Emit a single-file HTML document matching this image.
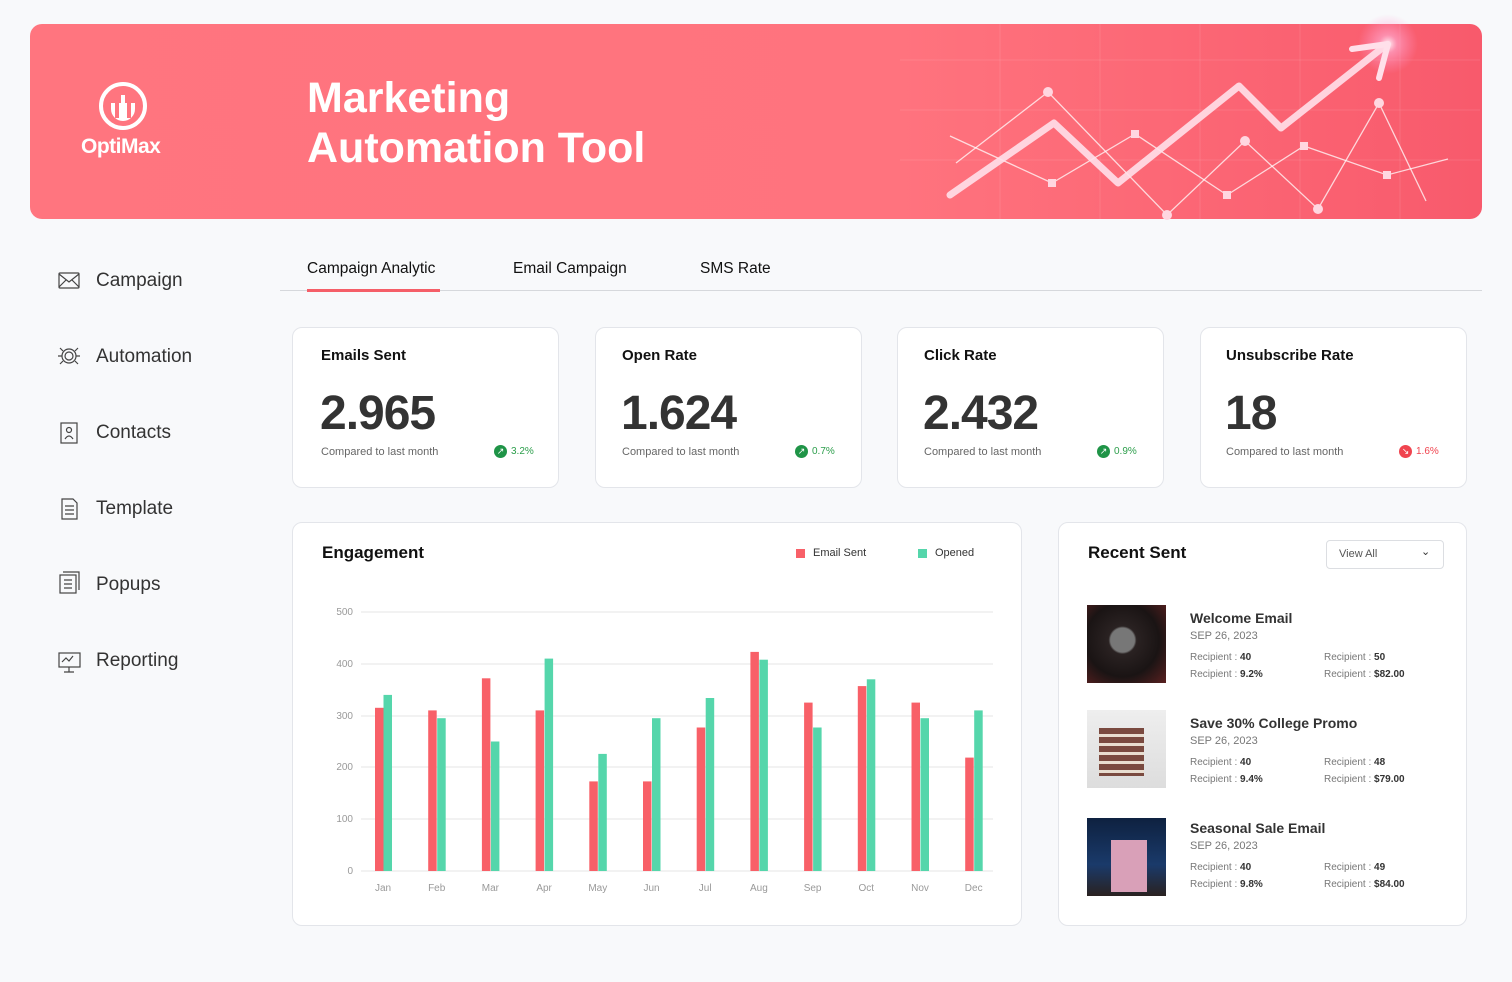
<!DOCTYPE html>
<html><head><meta charset="utf-8"><style>
*{margin:0;padding:0;box-sizing:border-box}
body{width:1512px;height:982px;background:#f8f9fb;font-family:"Liberation Sans",sans-serif;position:relative;overflow:hidden;color:#222}
.a{position:absolute;white-space:nowrap}
.banner{left:30px;top:24px;width:1452px;height:195px;border-radius:12px;background:linear-gradient(90deg,#ff757f 0%,#ff737e 60%,#f85a6c 100%);overflow:hidden}
.nav{font-size:19px;color:#333}
.card{background:#fff;border:1px solid #e3e5ea;border-radius:10px}
.kt{font-size:15px;font-weight:bold;color:#111}
.kv{font-size:48px;font-weight:bold;color:#333;letter-spacing:-1px}
.kc{font-size:11px;color:#666}
.kp{font-size:10px}
.dot{display:inline-block;width:13px;height:13px;border-radius:50%;color:#fff;font-size:9px;text-align:center;line-height:13px;vertical-align:middle;margin-right:4px}
.rt{font-size:14px;font-weight:bold;color:#333}
.rd{font-size:11px;color:#777}
.rr{font-size:10px;color:#777}
.rr b{color:#333}
.tab{font-size:15.5px;color:#111}
</style></head><body>
<div class="a banner"></div>
<svg class="a" style="left:0;top:0" width="1512" height="982">
<defs><radialGradient id="g"><stop offset="0" stop-color="#fff" stop-opacity=".95"/><stop offset=".3" stop-color="#ffb0d8" stop-opacity=".6"/><stop offset="1" stop-color="#ff9ad0" stop-opacity="0"/></radialGradient></defs>
<g stroke="#fff" stroke-opacity=".1" stroke-width="1">
<line x1="900" y1="60" x2="1480" y2="60"/><line x1="900" y1="110" x2="1480" y2="110"/><line x1="900" y1="160" x2="1480" y2="160"/>
<line x1="1000" y1="24" x2="1000" y2="219"/><line x1="1100" y1="24" x2="1100" y2="219"/><line x1="1200" y1="24" x2="1200" y2="219"/><line x1="1300" y1="24" x2="1300" y2="219"/><line x1="1400" y1="24" x2="1400" y2="219"/></g>
<circle cx="1388" cy="44" r="30" fill="url(#g)"/>
<polyline points="956,163 1048,92 1167,215 1245,141 1318,209 1379,103 1426,201" fill="none" stroke="#fff" stroke-opacity=".75" stroke-width="1.3"/>
<polyline points="950,136 1052,183 1135,134 1227,195 1304,146 1387,175 1448,159" fill="none" stroke="#fff" stroke-opacity=".75" stroke-width="1.3"/>
<g fill="#ffd6e0"><circle cx="1048" cy="92" r="5"/><circle cx="1167" cy="215" r="5"/><circle cx="1245" cy="141" r="5"/><circle cx="1318" cy="209" r="5"/><circle cx="1379" cy="103" r="5"/>
<rect x="1048" y="179" width="8" height="8"/><rect x="1131" y="130" width="8" height="8"/><rect x="1223" y="191" width="8" height="8"/><rect x="1300" y="142" width="8" height="8"/><rect x="1383" y="171" width="8" height="8"/></g>
<polyline points="950,195 1054,123 1118,183 1239,86 1281,128 1386,45" fill="none" stroke="#ffe0ea" stroke-opacity=".9" stroke-width="7" stroke-linecap="round" stroke-linejoin="round"/>
<polyline points="1352,49 1388,44 1379,78" fill="none" stroke="#ffe0ea" stroke-width="6" stroke-linecap="round" stroke-linejoin="round"/>
<circle cx="123" cy="106" r="22" fill="none" stroke="#fff" stroke-width="4"/>
<path d="M111 103 v6 a12 12 0 0 0 24 0 v-6" fill="#fff"/>
<rect x="115" y="100" width="4" height="18" fill="#ff757f"/><rect x="121" y="95" width="4" height="25" fill="#fff"/><rect x="127" y="100" width="4" height="18" fill="#ff757f"/>
</svg>
<div class="a" style="left:81px;top:135px;font-size:21px;font-weight:bold;color:#fff;letter-spacing:-0.5px">OptiMax</div>
<div class="a" style="left:307px;top:73px;font-size:43px;line-height:50px;font-weight:bold;color:#fff">Marketing<br>Automation Tool</div>

<div class="a nav" style="left:96px;top:270px">Campaign</div>
<div class="a nav" style="left:96px;top:346px">Automation</div>
<div class="a nav" style="left:96px;top:422px">Contacts</div>
<div class="a nav" style="left:96px;top:498px">Template</div>
<div class="a nav" style="left:96px;top:574px">Popups</div>
<div class="a nav" style="left:96px;top:650px">Reporting</div>
<svg class="a" style="left:56px;top:268px" width="30" height="410" fill="none" stroke="#444" stroke-width="1.2">
<rect x="3" y="5" width="20" height="15" rx="1"/><path d="M3 6 L13 14 L23 6 M3 19 L10 12 M23 19 L16 12"/>
<circle cx="13" cy="88" r="7"/><circle cx="13" cy="88" r="4"/><path d="M4 80 l3 3 M22 80 l-3 3 M4 96 l3-3 M22 96 l-3-3 M2 88 h4 M20 88 h4"/>
<rect x="5" y="155" width="16" height="20"/><circle cx="13" cy="162" r="2.5"/><path d="M9 171 q4-6 8 0"/>
<path d="M6 231 h11 l4 4 v16 h-15z M9 238 h9 M9 242 h9 M9 246 h9"/>
<rect x="4" y="307" width="16" height="18"/><path d="M7 304 h16 v18 M8 312 h8 M8 316 h8 M8 320 h8"/>
<rect x="3" y="385" width="21" height="14"/><path d="M13 399 v5 M8 404 h10 M6 394 l4-4 3 3 4-5"/>
</svg>

<div class="a tab" style="left:307px;top:260px">Campaign Analytic</div>
<div class="a tab" style="left:513px;top:260px">Email Campaign</div>
<div class="a tab" style="left:700px;top:260px">SMS Rate</div>
<div class="a" style="left:280px;top:290px;width:1202px;height:1px;background:#d6d8dc"></div>
<div class="a" style="left:307px;top:289px;width:133px;height:3px;background:#f55e68"></div>

<div class="a card" style="left:292px;top:327px;width:267px;height:161px"></div>
<div class="a card" style="left:595px;top:327px;width:267px;height:161px"></div>
<div class="a card" style="left:897px;top:327px;width:267px;height:161px"></div>
<div class="a card" style="left:1200px;top:327px;width:267px;height:161px"></div>
<div class="a kt" style="left:321px;top:347px">Emails Sent</div>
<div class="a kt" style="left:622px;top:347px">Open Rate</div>
<div class="a kt" style="left:924px;top:347px">Click Rate</div>
<div class="a kt" style="left:1226px;top:347px">Unsubscribe Rate</div>
<div class="a kv" style="left:320px;top:386px">2.965</div>
<div class="a kv" style="left:621px;top:386px">1.624</div>
<div class="a kv" style="left:923px;top:386px">2.432</div>
<div class="a kv" style="left:1225px;top:386px">18</div>
<div class="a kc" style="left:321px;top:446px">Compared to last month</div>
<div class="a kc" style="left:622px;top:446px">Compared to last month</div>
<div class="a kc" style="left:924px;top:446px">Compared to last month</div>
<div class="a kc" style="left:1226px;top:446px">Compared to last month</div>
<div class="a kp" style="left:494px;top:445px;color:#2c9e4b"><span class="dot" style="background:#1f9447">↗</span>3.2%</div>
<div class="a kp" style="left:795px;top:445px;color:#2c9e4b"><span class="dot" style="background:#1f9447">↗</span>0.7%</div>
<div class="a kp" style="left:1097px;top:445px;color:#2c9e4b"><span class="dot" style="background:#1f9447">↗</span>0.9%</div>
<div class="a kp" style="left:1399px;top:445px;color:#f0444f"><span class="dot" style="background:#f0444f">↘</span>1.6%</div>

<div class="a card" style="left:292px;top:522px;width:730px;height:404px"></div>
<div class="a" style="left:322px;top:543px;font-size:17px;font-weight:bold;color:#111">Engagement</div>
<div class="a" style="left:796px;top:549px;width:9px;height:9px;background:#f86068"></div>
<div class="a" style="left:813px;top:547px;font-size:11px;color:#333">Email Sent</div>
<div class="a" style="left:918px;top:549px;width:9px;height:9px;background:#55d6ab"></div>
<div class="a" style="left:935px;top:547px;font-size:11px;color:#333">Opened</div>
<svg class="a" style="left:0;top:0" width="1512" height="982" font-family="Liberation Sans, sans-serif" font-size="10" fill="#999">
<g stroke="#e6e6e6"><line x1="361" y1="612" x2="993" y2="612"/><line x1="361" y1="664" x2="993" y2="664"/><line x1="361" y1="716" x2="993" y2="716"/><line x1="361" y1="767" x2="993" y2="767"/><line x1="361" y1="819" x2="993" y2="819"/><line x1="361" y1="871" x2="993" y2="871"/></g>
<g text-anchor="end"><text x="353" y="615">500</text><text x="353" y="667">400</text><text x="353" y="719">300</text><text x="353" y="770">200</text><text x="353" y="822">100</text><text x="353" y="874">0</text></g>
<g text-anchor="middle"><text x="383" y="891">Jan</text><text x="436.7" y="891">Feb</text><text x="490.4" y="891">Mar</text><text x="544.1" y="891">Apr</text><text x="597.8" y="891">May</text><text x="651.5" y="891">Jun</text><text x="705.2" y="891">Jul</text><text x="758.9" y="891">Aug</text><text x="812.6" y="891">Sep</text><text x="866.3" y="891">Oct</text><text x="920" y="891">Nov</text><text x="973.7" y="891">Dec</text></g>
<g fill="#f86068">
<rect x="375" y="707.8" width="8.5" height="163.2"/><rect x="428.2" y="710.4" width="8.5" height="160.6"/><rect x="481.9" y="678.3" width="8.5" height="192.7"/><rect x="535.6" y="710.4" width="8.5" height="160.6"/><rect x="589.3" y="781.4" width="8.5" height="89.6"/><rect x="643" y="781.4" width="8.5" height="89.6"/><rect x="696.7" y="727.5" width="8.5" height="143.5"/><rect x="750.4" y="651.9" width="8.5" height="219.1"/><rect x="804.1" y="702.6" width="8.5" height="168.4"/><rect x="857.8" y="686.1" width="8.5" height="184.9"/><rect x="911.5" y="702.6" width="8.5" height="168.4"/><rect x="965.2" y="757.6" width="8.5" height="113.4"/></g>
<g fill="#55d6ab">
<rect x="383.5" y="694.9" width="8.5" height="176.1"/><rect x="437.2" y="718.2" width="8.5" height="152.8"/><rect x="490.9" y="741.5" width="8.5" height="129.5"/><rect x="544.6" y="658.6" width="8.5" height="212.4"/><rect x="598.3" y="753.9" width="8.5" height="117.1"/><rect x="652" y="718.2" width="8.5" height="152.8"/><rect x="705.7" y="698" width="8.5" height="173"/><rect x="759.4" y="659.7" width="8.5" height="211.3"/><rect x="813.1" y="727.5" width="8.5" height="143.5"/><rect x="866.8" y="679.3" width="8.5" height="191.7"/><rect x="920.5" y="718.2" width="8.5" height="152.8"/><rect x="974.2" y="710.4" width="8.5" height="160.6"/></g>
</svg>

<div class="a card" style="left:1058px;top:522px;width:409px;height:404px"></div>
<div class="a" style="left:1088px;top:543px;font-size:17px;font-weight:bold;color:#111">Recent Sent</div>
<div class="a" style="left:1326px;top:540px;width:118px;height:29px;border:1px solid #dcdee2;border-radius:4px;background:#fff"></div>
<div class="a" style="left:1339px;top:548px;font-size:11px;color:#555">View All</div>
<div class="a" style="left:1421px;top:545px;font-size:11px;color:#333">⌄</div>
<div class="a" style="left:1087px;top:605px;width:79px;height:78px;background:radial-gradient(circle at 45% 45%,#777 0 12px,#2a2222 14px,#1a1414 60%,#5a2020 100%)"></div>
<div class="a" style="left:1087px;top:710px;width:79px;height:78px;background:linear-gradient(#eee,#ddd);"><div style="position:absolute;left:12px;top:18px;width:45px;height:48px;background:repeating-linear-gradient(#7a4a40 0 6px,#e8ddd0 6px 9px)"></div></div>
<div class="a" style="left:1087px;top:818px;width:79px;height:78px;background:linear-gradient(#0e2140,#1a3a6a 60%,#2a2220)"><div style="position:absolute;left:24px;top:22px;width:36px;height:52px;background:#d9a0b8"></div></div>
<div class="a rt" style="left:1190px;top:610px">Welcome Email</div>
<div class="a rd" style="left:1190px;top:630px">SEP 26, 2023</div>
<div class="a rr" style="left:1190px;top:652px">Recipient : <b>40</b></div>
<div class="a rr" style="left:1190px;top:669px">Recipient : <b>9.2%</b></div>
<div class="a rr" style="left:1324px;top:652px">Recipient : <b>50</b></div>
<div class="a rr" style="left:1324px;top:669px">Recipient : <b>$82.00</b></div>
<div class="a rt" style="left:1190px;top:715px">Save 30% College Promo</div>
<div class="a rd" style="left:1190px;top:735px">SEP 26, 2023</div>
<div class="a rr" style="left:1190px;top:757px">Recipient : <b>40</b></div>
<div class="a rr" style="left:1190px;top:774px">Recipient : <b>9.4%</b></div>
<div class="a rr" style="left:1324px;top:757px">Recipient : <b>48</b></div>
<div class="a rr" style="left:1324px;top:774px">Recipient : <b>$79.00</b></div>
<div class="a rt" style="left:1190px;top:820px">Seasonal Sale Email</div>
<div class="a rd" style="left:1190px;top:840px">SEP 26, 2023</div>
<div class="a rr" style="left:1190px;top:862px">Recipient : <b>40</b></div>
<div class="a rr" style="left:1190px;top:879px">Recipient : <b>9.8%</b></div>
<div class="a rr" style="left:1324px;top:862px">Recipient : <b>49</b></div>
<div class="a rr" style="left:1324px;top:879px">Recipient : <b>$84.00</b></div>
</body></html>
